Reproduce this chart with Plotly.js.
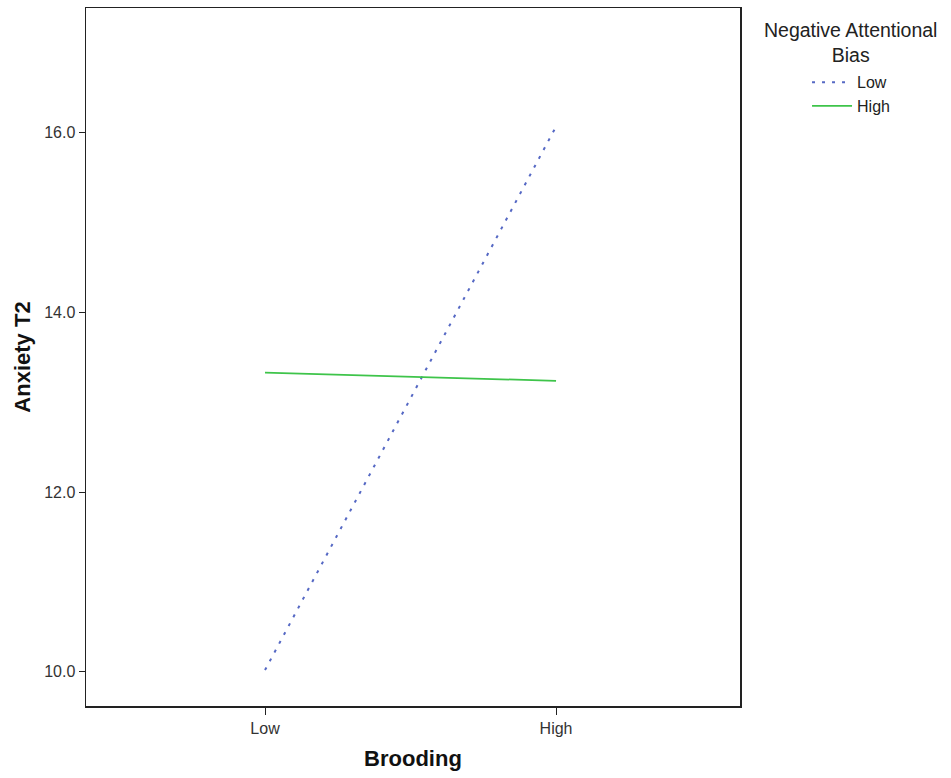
<!DOCTYPE html>
<html>
<head>
<meta charset="utf-8">
<script src="https://cdn.plot.ly/plotly-3.0.1.min.js"></script>
<style>html,body{margin:0;padding:0;background:#fff;}#chart{width:951px;height:778px;}</style>
</head>
<body>
<div id="chart"></div>
<script>
const categories = ['Low', 'High'];
const seriesNames = ['Low', 'High'];
const lowBias = [10.02, 16.07];
const highBias = [13.33, 13.24];
const yTicks = [10, 12, 14, 16];
const legendTitle = 'Negative Attentional<br>Bias';

const traces = [
  {x: categories, y: lowBias, name: seriesNames[0], type: 'scatter', mode: 'lines',
   line: {color: '#5568c4', width: 2, dash: '3px,7px'}},
  {x: categories, y: highBias, name: seriesNames[1], type: 'scatter', mode: 'lines',
   line: {color: '#3ec44a', width: 1.8}}
];

const layout = {
  width: 951, height: 778,
  margin: {l: 86, r: 211, t: 8, b: 72},
  paper_bgcolor: '#fff', plot_bgcolor: '#fff',
  font: {family: 'Liberation Sans, Arial, sans-serif', color: '#222'},
  showlegend: true,
  legend: {
    x: 1.1025, xanchor: 'left', y: 0.918, yanchor: 'top',
    font: {size: 16, color: '#222'},
    bgcolor: 'rgba(0,0,0,0)', itemwidth: 40, tracegroupgap: 0
  },
  annotations: [{
    text: legendTitle, xref: 'paper', yref: 'paper', x: 1.1697, y: 0.987,
    xanchor: 'center', yanchor: 'top', showarrow: false, align: 'center',
    font: {size: 19.5, color: '#222'}
  }],
  xaxis: {
    type: 'category', range: [-0.615, 1.632],
    showline: true, mirror: true, linecolor: '#222', linewidth: 1.5,
    ticks: 'outside', ticklen: 7, tickcolor: '#222', showgrid: false, zeroline: false,
    tickfont: {size: 16, color: '#333'},
    title: {text: 'Brooding', font: {size: 22, color: '#111', weight: 'bold'}, standoff: 15}
  },
  yaxis: {
    range: [9.62, 17.39],
    tickvals: yTicks, tickformat: '.1f',
    showline: true, mirror: true, linecolor: '#222', linewidth: 1.5,
    ticks: 'outside', ticklen: 6, tickcolor: '#222', showgrid: false, zeroline: false,
    tickfont: {size: 16, color: '#333'},
    title: {text: 'Anxiety T2', font: {size: 22, color: '#111', weight: 'bold'}, standoff: 7}
  }
};

Plotly.newPlot('chart', traces, layout, {displayModeBar: false, staticPlot: true});
</script>
</body>
</html>
